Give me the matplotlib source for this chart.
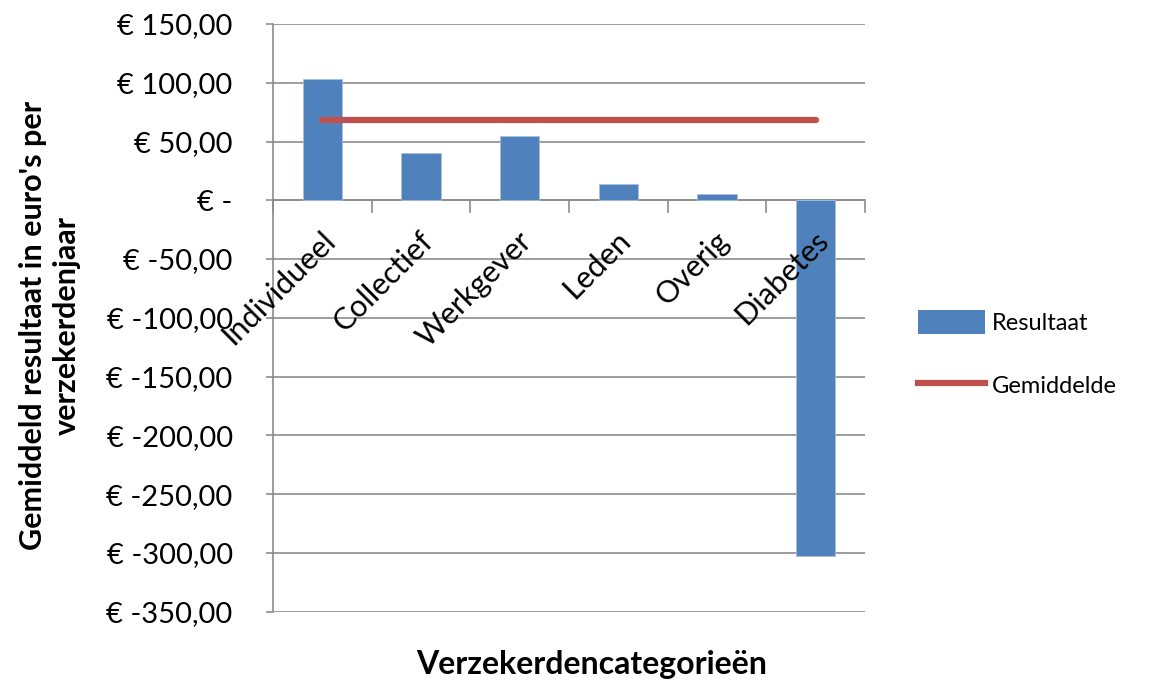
import matplotlib.pyplot as plt
from matplotlib.lines import Line2D
from matplotlib.patches import Patch

categorieen = ["Individueel", "Collectief", "Werkgever", "Leden", "Overig", "Diabetes"]
resultaat = [103.0, 40.5, 54.5, 14.2, 5.7, -302.5]
gemiddelde = [68.6, 68.6, 68.6, 68.6, 68.6, 68.6]
yticks = [150, 100, 50, 0, -50, -100, -150, -200, -250, -300, -350]

plt.rcParams['font.family'] = ['Lato', 'DejaVu Sans']

blauw = "#4f81bd"
rood = "#c0504d"
grijs = "#8c8c8c"

fig = plt.figure(figsize=(11.69, 6.86), dpi=100)
ax = fig.add_axes([0.2335, 0.1085, 0.5065, 0.8565])

x = list(range(len(categorieen)))
ax.bar(x, resultaat, width=0.4, color=blauw, edgecolor="#a7c0de", linewidth=0.6, zorder=3)
ax.plot(x, gemiddelde, color=rood, linewidth=4.5, solid_capstyle="round", zorder=4)

ax.set_xlim(-0.5, len(categorieen) - 0.5)
ax.set_ylim(-350, 150)

def euro(v):
    if v == 0:
        return "€ -"
    return "€ " + f"{v:.2f}".replace(".", ",")

ax.set_yticks(yticks)
ax.set_yticklabels([euro(v) for v in yticks], fontsize=21)
ax.yaxis.grid(True, color=grijs, linewidth=1.2, zorder=0)
ax.tick_params(axis="y", length=5, width=1.2, color=grijs, pad=24)

for s in ["top", "right", "bottom"]:
    ax.spines[s].set_visible(False)
ax.spines["left"].set_color(grijs)
ax.spines["left"].set_linewidth(1.2)

# category axis drawn along zero with boundary ticks
ax.axhline(0, color=grijs, linewidth=1.2, zorder=2)
ax.set_xticks([])
for b in range(len(categorieen) + 1):
    ax.plot([b - 0.5, b - 0.5], [0, -10], color=grijs, linewidth=1.2, clip_on=False, zorder=2)
for i, naam in enumerate(categorieen):
    ax.text(i - 0.02, -22, naam, rotation=45, ha="right", va="top",
            rotation_mode="anchor", fontsize=22, zorder=5)

fig.text(0.506, 0.031, "Verzekerdencategorieën", ha="center", va="center",
         fontsize=23, fontweight="bold")
fig.text(0.043, 0.525, "Gemiddeld resultaat in euro's per\nverzekerdenjaar", rotation=90,
         ha="center", va="center", fontsize=22, fontweight="bold", linespacing=1.25)

handles = [Patch(facecolor=blauw, edgecolor="none"),
           Line2D([0], [0], color=rood, linewidth=4.5)]
fig.legend(handles, ["Resultaat", "Gemiddelde"], loc="center left",
           bbox_to_anchor=(0.767, 0.485), frameon=False, fontsize=17,
           handlelength=2.85, handleheight=1.2, labelspacing=1.65, handletextpad=0.3)

fig.savefig("out.png", dpi=100)
